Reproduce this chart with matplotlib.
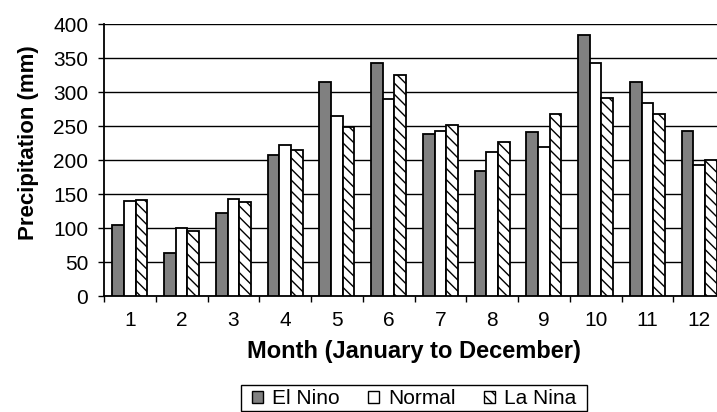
import matplotlib
matplotlib.use("Agg")
import matplotlib.pyplot as plt
from matplotlib.patches import Rectangle
import numpy as np

plt.rcParams['font.family'] = ['Liberation Sans', 'DejaVu Sans']
plt.rcParams['hatch.linewidth'] = 1.0

months = [1, 2, 3, 4, 5, 6, 7, 8, 9, 10, 11, 12]
el_nino = [105, 63, 122, 207, 314, 343, 238, 184, 241, 384, 315, 243]
normal = [139, 100, 142, 222, 265, 290, 243, 212, 219, 342, 284, 192]
la_nina = [141, 95, 138, 214, 249, 325, 251, 226, 268, 291, 267, 200]
yticks = [0, 50, 100, 150, 200, 250, 300, 350, 400]

W, H = 717, 412
fig = plt.figure(figsize=(W / 100, H / 100), dpi=100)
ax = fig.add_axes([104 / W, 1 - 296 / H, 621 / W, 272 / H])

x = np.arange(len(months))
w = 0.225
ax.bar(x - w, el_nino, w, color='#808080', edgecolor='black', linewidth=1.3, label='El Nino', zorder=3)
ax.bar(x, normal, w, color='white', edgecolor='black', linewidth=1.3, label='Normal', zorder=3)
ax.bar(x + w, la_nina, w, color='white', edgecolor='black', linewidth=1.3, hatch='\\\\\\', label='La Nina', zorder=3)

ax.set_xlim(-0.5, len(months) - 0.5)
ax.set_ylim(0, 400)
ax.set_yticks(yticks)
ax.set_yticklabels([str(v) for v in yticks], fontsize=15)
ax.set_xticks(x)
ax.set_xticklabels([str(m) for m in months], fontsize=15)
ax.tick_params(axis='x', length=0, pad=10.5)
ax.set_xticks(np.arange(len(months) + 1) - 0.5, minor=True)
ax.tick_params(axis='x', which='minor', length=4.3, width=1, direction='out')
ax.tick_params(axis='y', length=4.3, width=1, direction='out', pad=7)

ax.yaxis.grid(True, color='black', linewidth=1.0, zorder=0)
ax.set_axisbelow(True)
for s in ['top', 'right']:
    ax.spines[s].set_visible(False)
ax.spines['left'].set_linewidth(1.3)
ax.spines['bottom'].set_linewidth(1.3)

ax.set_xlabel('Month (January to December)', fontsize=17, fontweight='bold')
ax.xaxis.set_label_coords(0.499, -0.162)
ax.set_ylabel('Precipitation (mm)', fontsize=16, fontweight='bold')
ax.yaxis.set_label_coords(-0.105, 0.565)

leg = fig.legend(loc='center', bbox_to_anchor=(414 / W, 1 - 399 / H), ncol=3, fontsize=15,
                 frameon=False, handlelength=0.55, handleheight=0.55, handletextpad=0.43,
                 columnspacing=1.35, borderpad=0.0)
for p in leg.get_patches():
    p.set_linewidth(1.0)

fig.canvas.draw()
bb = leg.get_window_extent()
padx = 11
rect = Rectangle((bb.x0 - padx, 1), bb.width + 2 * padx, (H - 385) - 1,
                 transform=None, fill=False, edgecolor='black', linewidth=1.0)
fig.patches.append(rect)

fig.savefig('out.png', dpi=100)
